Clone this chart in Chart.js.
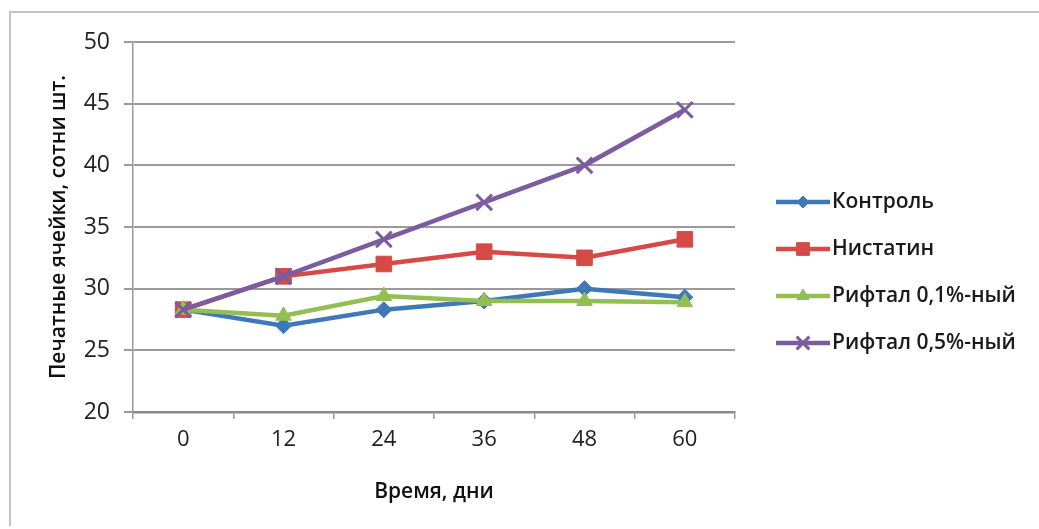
<!DOCTYPE html>
<html>
<head>
<meta charset="utf-8">
<script src="https://cdn.jsdelivr.net/npm/chart.js@4.4.1/dist/chart.umd.min.js"></script>
<style>
  html, body { margin: 0; padding: 0; background: #fff; }
  #wrap { position: relative; width: 1039px; height: 529px; }
</style>
</head>
<body>
<div id="wrap"><canvas id="c" width="1039" height="529"></canvas></div>
<script>
const categories = ['0', '12', '24', '36', '48', '60'];
const seriesNames = ['Контроль', 'Нистатин', 'Рифтал 0,1%-ный', 'Рифтал 0,5%-ный'];
const kontrol = [28.3, 27.0, 28.3, 29.0, 30.0, 29.3];
const nistatin = [28.3, 31.0, 32.0, 33.0, 32.5, 34.0];
const riftal01 = [28.3, 27.8, 29.4, 29.0, 29.0, 28.9];
const riftal05 = [28.3, 31.0, 34.0, 37.0, 40.0, 44.5];
const yTicks = [20, 25, 30, 35, 40, 45, 50];
const xTitle = 'Время, дни';
const yTitle = 'Печатные ячейки, сотни шт.';

const colors = ['#3E78B8', '#D54A47', '#93BE52', '#7C5C9E'];
const styles = ['rectRot', 'rect', 'triangle', 'crossRot'];
const radii = [8, 11, 9, 11];
const values = [kontrol, nistatin, riftal01, riftal05];

const FONT = '"Open Sans", "Noto Sans", sans-serif';

const datasets = values.map((v, i) => ({
  label: seriesNames[i],
  data: v,
  borderColor: colors[i],
  backgroundColor: colors[i],
  borderWidth: 4.5,
  pointStyle: styles[i],
  pointRadius: radii[i],
  pointBorderWidth: styles[i] === 'crossRot' ? 3 : 1,
  pointBorderColor: colors[i],
  pointBackgroundColor: colors[i],
  tension: 0,
  fill: false
})).reverse();

const frame = {
  id: 'frame',
  beforeDraw(chart) {
    const ctx = chart.ctx;
    ctx.save();
    ctx.fillStyle = '#fff';
    ctx.fillRect(0, 0, chart.width, chart.height);
    ctx.strokeStyle = '#c4c4c4';
    ctx.lineWidth = 2;
    ctx.beginPath();
    ctx.moveTo(10, 526);
    ctx.lineTo(10, 12);
    ctx.lineTo(1039, 12);
    ctx.stroke();
    ctx.restore();
  }
};

const legendPlugin = {
  id: 'customLegend',
  afterDraw(chart) {
    const ctx = chart.ctx;
    ctx.save();
    const x0 = 776, lineLen = 54;
    const ys = [202, 249, 296, 343];
    seriesNames.forEach((name, i) => {
      const y = ys[i];
      ctx.strokeStyle = colors[i];
      ctx.lineWidth = 4.5;
      ctx.beginPath();
      ctx.moveTo(x0, y);
      ctx.lineTo(x0 + lineLen, y);
      ctx.stroke();
      ctx.fillStyle = colors[i];
      ctx.strokeStyle = colors[i];
      ctx.lineWidth = styles[i] === 'crossRot' ? 3 : 1;
      Chart.helpers.drawPoint(ctx, {pointStyle: styles[i], radius: radii[i] - 2, borderWidth: ctx.lineWidth}, x0 + lineLen / 2, y);
      ctx.fillStyle = '#1a1a1a';
      ctx.font = '600 21px ' + FONT;
      ctx.textBaseline = 'middle';
      ctx.textAlign = 'left';
      ctx.fillText(name, x0 + lineLen + 2, y);
    });
    ctx.restore();
  }
};

new Chart(document.getElementById('c'), {
  type: 'line',
  data: { labels: categories, datasets },
  plugins: [frame, legendPlugin],
  options: {
    responsive: false,
    animation: false,
    events: [],
    layout: { padding: { left: 0, top: 42, right: 304, bottom: 0 } },
    plugins: {
      legend: { display: false },
      tooltip: { enabled: false }
    },
    scales: {
      x: {
        offset: true,
        grid: {
          display: true,
          drawOnChartArea: false,
          drawTicks: true,
          tickLength: 7,
          offset: true,
          color: '#9a9a9a',
          lineWidth: 1.5
        },
        border: { display: true, color: '#8a8a8a', width: 2.5 },
        ticks: {
          color: '#222',
          font: { family: FONT, size: 22 },
          padding: 8
        },
        title: {
          display: true,
          text: xTitle,
          color: '#111',
          font: { family: FONT, size: 21, weight: '600' },
          padding: { top: 0, bottom: 24 }
        },
        afterFit(scale) { scale.height = 117; }
      },
      y: {
        min: 20,
        max: 50,
        afterBuildTicks(scale) { scale.ticks = yTicks.map(v => ({ value: v })); },
        grid: {
          color: '#9a9a9a',
          lineWidth: 2,
          drawTicks: true,
          tickLength: 9
        },
        border: { display: true, color: '#9a9a9a', width: 1.5 },
        ticks: {
          color: '#222',
          font: { family: FONT, size: 23 },
          padding: 14
        },
        title: {
          display: true,
          text: yTitle,
          color: '#111',
          font: { family: FONT, size: 21, weight: '600' },
          padding: { top: 46, bottom: 0 }
        },
        afterFit(scale) { scale.width = 133; }
      }
    }
  }
});
</script>
</body>
</html>
